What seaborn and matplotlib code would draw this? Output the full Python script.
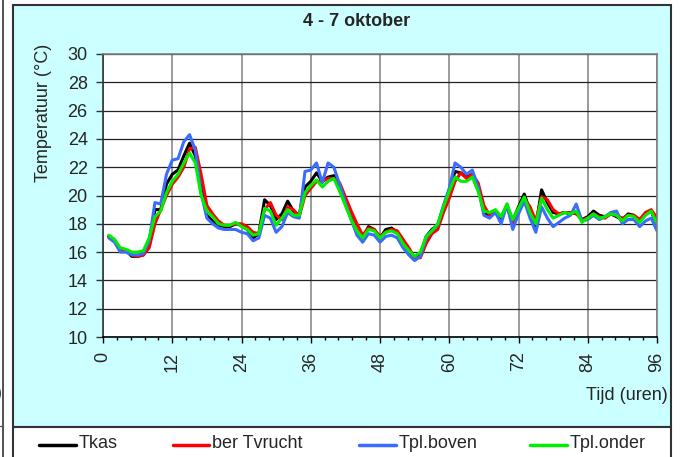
import numpy as np
import pandas as pd
import seaborn as sns
import matplotlib.pyplot as plt
from matplotlib.patches import Rectangle
from matplotlib.lines import Line2D
from matplotlib.ticker import MultipleLocator

# hourly readings, 4 - 7 oktober
hours = list(range(1, 97))
tkas = [17.1, 16.8, 16.2, 16.1, 15.7, 15.7, 15.8, 16.6, 19.0, 19.0, 20.8, 21.5,
        21.8, 22.8, 23.7, 22.8, 20.5, 18.6, 18.2, 17.9, 17.8, 17.8, 18.0, 17.9,
        17.6, 17.0, 17.3, 19.7, 19.3, 18.3, 18.7, 19.6, 18.9, 18.6, 20.6, 21.0,
        21.6, 21.0, 21.3, 21.4, 20.4, 19.4, 18.4, 17.5, 17.0, 17.8, 17.6, 17.0,
        17.6, 17.7, 17.4, 16.7, 16.1, 15.6, 15.8, 17.1, 17.6, 17.9, 19.2, 20.4,
        21.7, 21.6, 21.3, 21.5, 20.6, 18.8, 18.6, 18.9, 18.4, 19.3, 18.2, 19.2,
        20.1, 18.9, 17.8, 20.4, 19.5, 18.8, 18.7, 18.8, 18.7, 18.8, 18.3, 18.5,
        18.9, 18.6, 18.5, 18.7, 18.5, 18.3, 18.7, 18.6, 18.2, 18.7, 18.9, 17.9]
tvrucht = [17.1, 16.8, 16.2, 16.1, 15.8, 15.7, 15.8, 16.3, 18.0, 19.0, 20.0, 20.8,
           21.3, 22.0, 23.3, 23.4, 21.5, 19.3, 18.7, 18.2, 17.9, 17.9, 18.0, 18.0,
           17.8, 17.4, 17.3, 19.0, 19.5, 18.6, 18.3, 19.2, 19.0, 18.5, 20.0, 20.5,
           21.0, 21.0, 21.2, 21.2, 20.9, 19.9, 18.9, 18.0, 17.2, 17.7, 17.6, 17.1,
           17.4, 17.6, 17.5, 16.9, 16.3, 15.6, 15.6, 16.6, 17.3, 17.6, 18.8, 19.8,
           21.0, 21.6, 21.2, 21.5, 20.9, 19.3, 18.6, 18.9, 18.5, 19.2, 18.0, 19.0,
           19.8, 19.2, 18.2, 19.9, 19.7, 19.0, 18.7, 18.8, 18.8, 18.7, 18.3, 18.4,
           18.7, 18.5, 18.4, 18.7, 18.6, 18.4, 18.6, 18.6, 18.3, 18.8, 19.0, 18.4]
tpl_boven = [17.0, 16.7, 16.0, 16.0, 15.8, 15.8, 15.9, 16.8, 19.5, 19.4, 21.5, 22.5,
             22.6, 23.8, 24.3, 23.2, 20.2, 18.4, 18.0, 17.7, 17.6, 17.6, 17.6, 17.4,
             17.3, 16.8, 17.0, 18.6, 18.4, 17.4, 17.8, 18.8, 18.5, 18.4, 21.7, 21.8,
             22.3, 20.9, 22.3, 22.0, 20.8, 19.5, 18.3, 17.2, 16.7, 17.3, 17.2, 16.7,
             17.1, 17.2, 17.0, 16.3, 15.8, 15.4, 15.7, 17.0, 17.5, 17.9, 19.3, 20.5,
             22.3, 22.0, 21.5, 21.8, 20.6, 18.6, 18.4, 18.8, 18.0, 19.4, 17.6, 18.7,
             19.6, 18.4, 17.4, 19.2, 18.4, 17.8, 18.1, 18.4, 18.6, 19.4, 18.2, 18.3,
             18.6, 18.3, 18.5, 18.8, 18.9, 18.0, 18.3, 18.3, 17.8, 18.2, 18.4, 17.5]
tpl_onder = [17.2, 16.9, 16.3, 16.2, 16.0, 16.0, 16.1, 17.0, 18.5, 18.9, 20.2, 21.0,
             21.5, 22.3, 23.0, 22.3, 20.0, 18.9, 18.5, 18.0, 17.9, 17.9, 18.1, 17.8,
             17.6, 17.2, 17.3, 19.1, 18.9, 17.9, 18.4, 19.0, 18.6, 18.6, 20.2, 20.7,
             21.1, 20.6, 21.0, 21.2, 20.3, 19.3, 18.3, 17.5, 17.0, 17.6, 17.5, 17.0,
             17.4, 17.5, 17.3, 16.6, 16.1, 15.7, 16.0, 17.1, 17.5, 18.0, 19.2, 20.3,
             21.3, 21.0, 21.0, 21.3, 20.3, 18.9, 18.8, 19.0, 18.5, 19.4, 18.3, 19.1,
             19.9, 18.8, 18.0, 19.8, 19.0, 18.4, 18.6, 18.8, 18.7, 18.9, 18.1, 18.4,
             18.7, 18.4, 18.5, 18.7, 18.6, 18.2, 18.6, 18.5, 18.1, 18.6, 18.9, 18.0]

series_names = ['Tkas', 'ber Tvrucht', 'Tpl.boven', 'Tpl.onder']
series_colors = ['#000000', '#FF0000', '#3A6CFF', '#00EE00']

df = pd.DataFrame({'uur': hours * 4,
                   'temp': tkas + tvrucht + tpl_boven + tpl_onder,
                   'reeks': np.repeat(series_names, len(hours))})

sns.set_style('white')
plt.rcParams['font.family'] = ['Liberation Sans', 'DejaVu Sans']

W, H = 682, 457
fig = plt.figure(figsize=(W / 100, H / 100), dpi=100)


def fx(x):
    return x / W


def fy(y):
    return 1 - y / H


# chart area + legend box like Excel
fig.add_artist(Rectangle((fx(13), fy(427)), fx(671) - fx(13), fy(5) - fy(427),
                         transform=fig.transFigure, facecolor='#CCFFFF',
                         edgecolor='#333333', lw=1.5, zorder=-2))
fig.add_artist(Rectangle((fx(13), fy(460)), fx(671) - fx(13), fy(427) - fy(460),
                         transform=fig.transFigure, facecolor='white',
                         edgecolor='#333333', lw=1.5, zorder=-2))
# edge of neighbouring chart on the left
fig.add_artist(Line2D([fx(3), fx(3)], [0, 1], transform=fig.transFigure,
                      color='#333333', lw=1.2))
fig.add_artist(Line2D([0, fx(3)], [fy(426), fy(426)], transform=fig.transFigure,
                      color='#555555', lw=1.0))
fig.text(fx(2), fy(393), ')', ha='right', va='center', fontsize=13)

ax = fig.add_axes([fx(103), fy(337), fx(657) - fx(103), fy(54) - fy(337)])
ax.set_facecolor('white')

sns.lineplot(data=df, x='uur', y='temp', hue='reeks', hue_order=series_names,
             palette=series_colors, lw=2.2, legend=False, ax=ax)

ax.set_xlim(0, 96)
ax.set_ylim(10, 30)
ax.xaxis.set_major_locator(MultipleLocator(12))
ax.xaxis.set_minor_locator(MultipleLocator(2.4))
ax.yaxis.set_major_locator(MultipleLocator(2))
ax.set_xlabel('')
ax.set_ylabel('')

ax.grid(axis='y', color='#222222', lw=0.9)
ax.grid(axis='x', which='major', color='#808080', lw=1.1)
ax.set_axisbelow(True)

ax.tick_params(axis='y', which='major', direction='out', length=5, width=1,
               color='#333333', pad=6, labelsize=13, left=True)
ax.tick_params(axis='x', which='major', direction='out', length=4.5, width=1,
               color='#000000', pad=6, labelsize=13, bottom=True,
               labelrotation=90)
ax.tick_params(axis='x', which='minor', direction='out', length=2.5, width=1,
               color='#000000', bottom=True)

for side in ['top', 'right']:
    ax.spines[side].set_color('#808080')
    ax.spines[side].set_linewidth(1.2)
ax.spines['left'].set_color('#333333')
ax.spines['bottom'].set_color('#000000')
for side in ['left', 'bottom']:
    ax.spines[side].set_linewidth(1.2)

fig.text(fx(357), fy(22), '4 - 7 oktober', ha='center', va='center',
         fontsize=13, fontweight='bold')
fig.text(fx(44), fy(113), 'Temperatuur (°C)', rotation=90, ha='center',
         va='center', fontsize=13)
fig.text(fx(668), fy(395), 'Tijd (uren)', ha='right', va='center', fontsize=13)

# legend row at the bottom
leg_line_x = [(39, 76), (173, 209), (359, 396), (530, 567)]
for (x0, x1), name, col in zip(leg_line_x, series_names, series_colors):
    fig.add_artist(Line2D([fx(x0), fx(x1)], [fy(445), fy(445)],
                          transform=fig.transFigure, color=col, lw=2.5))
    fig.text(fx(x1 + 3), fy(444), name, ha='left', va='center', fontsize=13)

fig.savefig('out.png', dpi=100)
